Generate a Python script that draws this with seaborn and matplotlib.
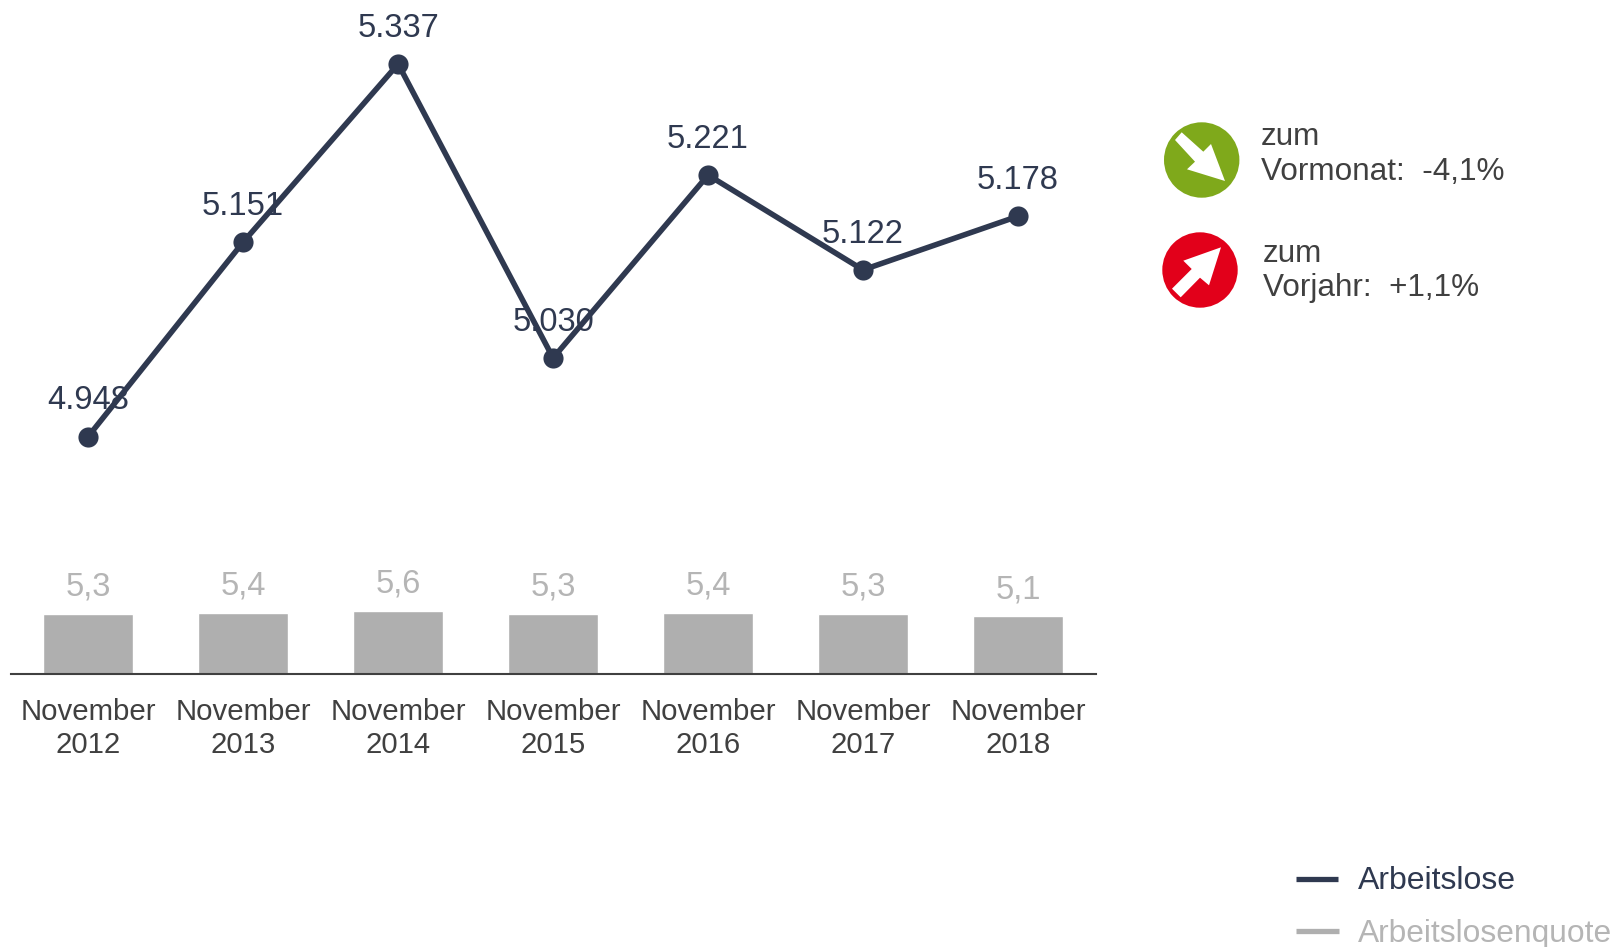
import matplotlib
matplotlib.use("Agg")
import matplotlib.pyplot as plt
from matplotlib.patches import Circle, Polygon
import seaborn as sns

# Data
years = ["2012", "2013", "2014", "2015", "2016", "2017", "2018"]
arbeitslose = [4948, 5151, 5337, 5030, 5221, 5122, 5178]
arbeitslose_labels = ["4.948", "5.151", "5.337", "5.030", "5.221", "5.122", "5.178"]
quote = [5.3, 5.4, 5.6, 5.3, 5.4, 5.3, 5.1]
quote_labels = ["5,3", "5,4", "5,6", "5,3", "5,4", "5,3", "5,1"]
categories = ["November\n" + y for y in years]

NAVY = "#2f3950"
BAR_GRAY = "#afafaf"
LABEL_GRAY = "#b5b5b5"
TEXT = "#404040"
GREEN = "#7fa91b"
RED = "#e2001a"

sns.set_theme(style="white")
plt.rcParams["font.family"] = ["Liberation Sans", "DejaVu Sans"]

W, H = 1622, 947
fig = plt.figure(figsize=(W / 100, H / 100), dpi=100)

# axes spans from the top of the picture down to the baseline
left, right, base = 10.7, 1095.5, 673.5
ax = fig.add_axes([left / W, 1 - base / H, (right - left) / W, base / H])

# Bars
sns.barplot(x=categories, y=quote, color=BAR_GRAY, saturation=1, width=0.58, ax=ax)
ax.set_xlim(-0.5, 6.5)
ax.set_ylim(0, base / 11.2)
for i, v in enumerate(quote):
    ax.annotate(quote_labels[i], (i, v), xytext=(0, 19.3), textcoords="offset points",
                ha="center", va="center", fontsize=23.5, color=LABEL_GRAY)

for s in ["top", "left", "right"]:
    ax.spines[s].set_visible(False)
ax.spines["bottom"].set_color(TEXT)
ax.spines["bottom"].set_linewidth(1.5)
ax.set_yticks([])
ax.tick_params(axis="x", length=0, pad=17.5, labelsize=21.2, labelcolor=TEXT)
for t in ax.get_xticklabels():
    t.set_linespacing(1.23)
ax.set_ylabel("")

# Line on its own scale
ax2 = ax.twinx()
sns.lineplot(x=range(len(arbeitslose)), y=arbeitslose, color=NAVY, linewidth=4,
             marker="o", markersize=14.5, markeredgewidth=0, ax=ax2)
ax2.set_ylim(4948 - (base - 436.5) / 0.9576, 4948 + 436.5 / 0.9576)
ax2.set_yticks([])
ax2.set_ylabel("")
ax2.grid(False)
for s in ax2.spines.values():
    s.set_visible(False)
for i, v in enumerate(arbeitslose):
    ax2.annotate(arbeitslose_labels[i], (i, v), xytext=(0, 25.7), textcoords="offset points",
                 ha="center", va="center", fontsize=23.5, color=NAVY)

# Overlay in picture pixels for the icons and the legend
ov = fig.add_axes([0, 0, 1, 1])
ov.set_xlim(0, W)
ov.set_ylim(H, 0)
ov.axis("off")

ov.add_patch(Circle((1201.7, 160), 37.7, color=GREEN, lw=0))
ov.add_patch(Polygon([(1181.7, 132.3), (1203.3, 151.7), (1211, 144), (1225, 181),
                      (1187, 169.3), (1195, 161.7), (1175, 140)], color="white", lw=0))
ov.add_patch(Circle((1200, 270), 37.7, color=RED, lw=0))
ov.add_patch(Polygon([(1221, 247.3), (1209, 285.3), (1200, 277.7), (1180.7, 297.3),
                      (1172, 288.7), (1191.7, 269), (1183.3, 260.7)], color="white", lw=0))

ov.text(1261, 145, "zum", fontsize=22.7, color=TEXT, va="baseline")
ov.text(1261, 180, "Vormonat:  -4,1%", fontsize=22.7, color=TEXT, va="baseline")
ov.text(1263, 262, "zum", fontsize=22.7, color=TEXT, va="baseline")
ov.text(1263, 296, "Vorjahr:  +1,1%", fontsize=22.7, color=TEXT, va="baseline")

ov.plot([1296, 1338], [879, 879], color=NAVY, lw=3.8, solid_capstyle="butt")
ov.plot([1296, 1339], [931, 931], color=BAR_GRAY, lw=3.8, solid_capstyle="butt")
ov.text(1358, 889, "Arbeitslose", fontsize=23, color=NAVY, va="baseline")
ov.text(1358, 942, "Arbeitslosenquote", fontsize=22.9, color=LABEL_GRAY, va="baseline")

fig.savefig("out.png", dpi=100)
